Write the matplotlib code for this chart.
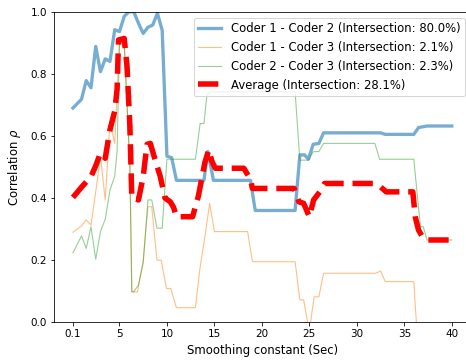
import matplotlib
matplotlib.use('Agg')
import matplotlib.pyplot as plt

# smoothing constant (sec) vs. correlation, breakpoints of each curve
c12_x = [0.1, 1, 1.5, 2, 2.5, 3, 3.5, 4, 4.5, 5, 5.5, 6, 6.5, 7, 7.5, 8, 8.5, 9, 9.5, 10,
         10.5, 11, 13.9, 14.3, 14.5, 14.9, 18.8, 19.3, 23.5, 24, 24.5, 24.9, 25.4, 26,
         26.5, 32.5, 33, 36, 36.5, 37.4, 40]
c12_y = [0.69, 0.718, 0.778, 0.755, 0.888, 0.807, 0.848, 0.84, 0.942, 0.936, 0.985, 1.0,
         1.0, 0.963, 0.93, 0.95, 0.957, 0.995, 0.94, 0.535, 0.53, 0.457, 0.457, 0.55, 0.52,
         0.457, 0.457, 0.36, 0.36, 0.539, 0.539, 0.525, 0.573, 0.576, 0.61, 0.61, 0.605,
         0.605, 0.627, 0.632, 0.632]

c13_x = [0.1, 1, 1.5, 2, 2.5, 3, 3.5, 4, 4.5, 5, 5.5, 6.1, 6.3, 6.9, 7.5, 8, 8.4, 8.95,
         9.4, 9.95, 10.4, 11, 13, 13.5, 14, 14.5, 15, 18.5, 19, 23.5, 24, 24.4, 25, 25.5,
         26, 26.5, 32, 32.5, 33, 36, 36.5, 40]
c13_y = [0.29, 0.31, 0.33, 0.313, 0.42, 0.535, 0.394, 0.645, 0.576, 0.9, 0.9, 0.5, 0.098,
         0.098, 0.2, 0.372, 0.372, 0.2, 0.2, 0.109, 0.109, 0.047, 0.047, 0.179, 0.276,
         0.383, 0.292, 0.292, 0.195, 0.195, 0.072, 0.072, -0.03, 0.082, 0.082, 0.158,
         0.158, 0.165, 0.131, 0.131, -0.11, -0.11]

c23_x = [0.1, 1, 1.5, 2, 2.5, 3, 3.5, 4, 4.5, 4.75, 5, 5.5, 6.1, 6.3, 6.5, 7, 7.5, 8,
         8.4, 8.95, 9.5, 10, 13, 13.5, 13.9, 14.2, 14.5, 23.5, 24, 24.9, 25.4, 26, 26.5,
         31.9, 32.4, 36, 36.7, 37, 37.4, 40]
c23_y = [0.224, 0.278, 0.238, 0.308, 0.203, 0.292, 0.332, 0.426, 0.47, 0.55, 0.9, 0.9,
         0.5, 0.098, 0.098, 0.12, 0.19, 0.394, 0.394, 0.303, 0.303, 0.525, 0.525, 0.64,
         0.64, 0.73, 0.742, 0.742, 0.522, 0.522, 0.549, 0.55, 0.576, 0.576, 0.525, 0.525,
         0.308, 0.308, 0.265, 0.265]

avg_x = [0.1, 1, 2, 2.5, 3, 3.5, 4, 4.5, 4.75, 4.9, 5.5, 5.8, 6.1, 6.3, 7.0, 7.5, 7.9,
         8.25, 8.6, 9.3, 9.8, 10.35, 10.7, 11, 12.7, 13.3, 14.0, 14.4, 14.75, 15.1, 18.1,
         18.8, 19.0, 23.4, 23.9, 24.4, 25, 25.45, 26.1, 26.6, 31.7, 32.45, 33.1, 35.9,
         36.15, 36.5, 37.0, 37.5, 40]
avg_y = [0.402, 0.435, 0.469, 0.504, 0.545, 0.528, 0.62, 0.68, 0.75, 0.909, 0.914, 0.823,
         0.63, 0.40, 0.394, 0.469, 0.573, 0.576, 0.539, 0.469, 0.40, 0.388, 0.37, 0.34,
         0.34, 0.405, 0.515, 0.555, 0.517, 0.496, 0.496, 0.46, 0.431, 0.431, 0.388,
         0.383, 0.34, 0.394, 0.42, 0.447, 0.447, 0.437, 0.42, 0.42, 0.34, 0.297, 0.27,
         0.265, 0.265]

labels = ['Coder 1 - Coder 2 (Intersection: 80.0%)',
          'Coder 1 - Coder 3 (Intersection: 2.1%)',
          'Coder 2 - Coder 3 (Intersection: 2.3%)',
          'Average (Intersection: 28.1%)']
xticks = [0.1, 5, 10, 15, 20, 25, 30, 35, 40]

plt.rcParams['font.size'] = 11.6
plt.rcParams['xtick.labelsize'] = 10.4
plt.rcParams['ytick.labelsize'] = 10.4

fig = plt.figure(figsize=(466 / 72, 362 / 72), dpi=72)
ax = fig.add_axes([54 / 466, 39.7 / 362, 416.7 / 466, 310.6 / 362])

ax.plot(c12_x, c12_y, color='tab:blue', lw=3.3, alpha=0.6, label=labels[0])
ax.plot(c13_x, c13_y, color='tab:orange', lw=1.1, alpha=0.5, label=labels[1])
ax.plot(c23_x, c23_y, color='tab:green', lw=1.1, alpha=0.5, label=labels[2])
ax.plot(avg_x, avg_y, color='red', lw=5.5, ls='--', label=labels[3])

ax.set_xlim(-1.895, 41.995)
ax.set_ylim(0, 1)
ax.set_xticks(xticks)
ax.set_xticklabels([str(t) for t in xticks])
ax.set_xlabel('Smoothing constant (Sec)', labelpad=5)
ax.set_ylabel('Correlation $\\rho$', labelpad=7)
ax.legend(loc='upper right')

fig.savefig('out.png', dpi=72)
